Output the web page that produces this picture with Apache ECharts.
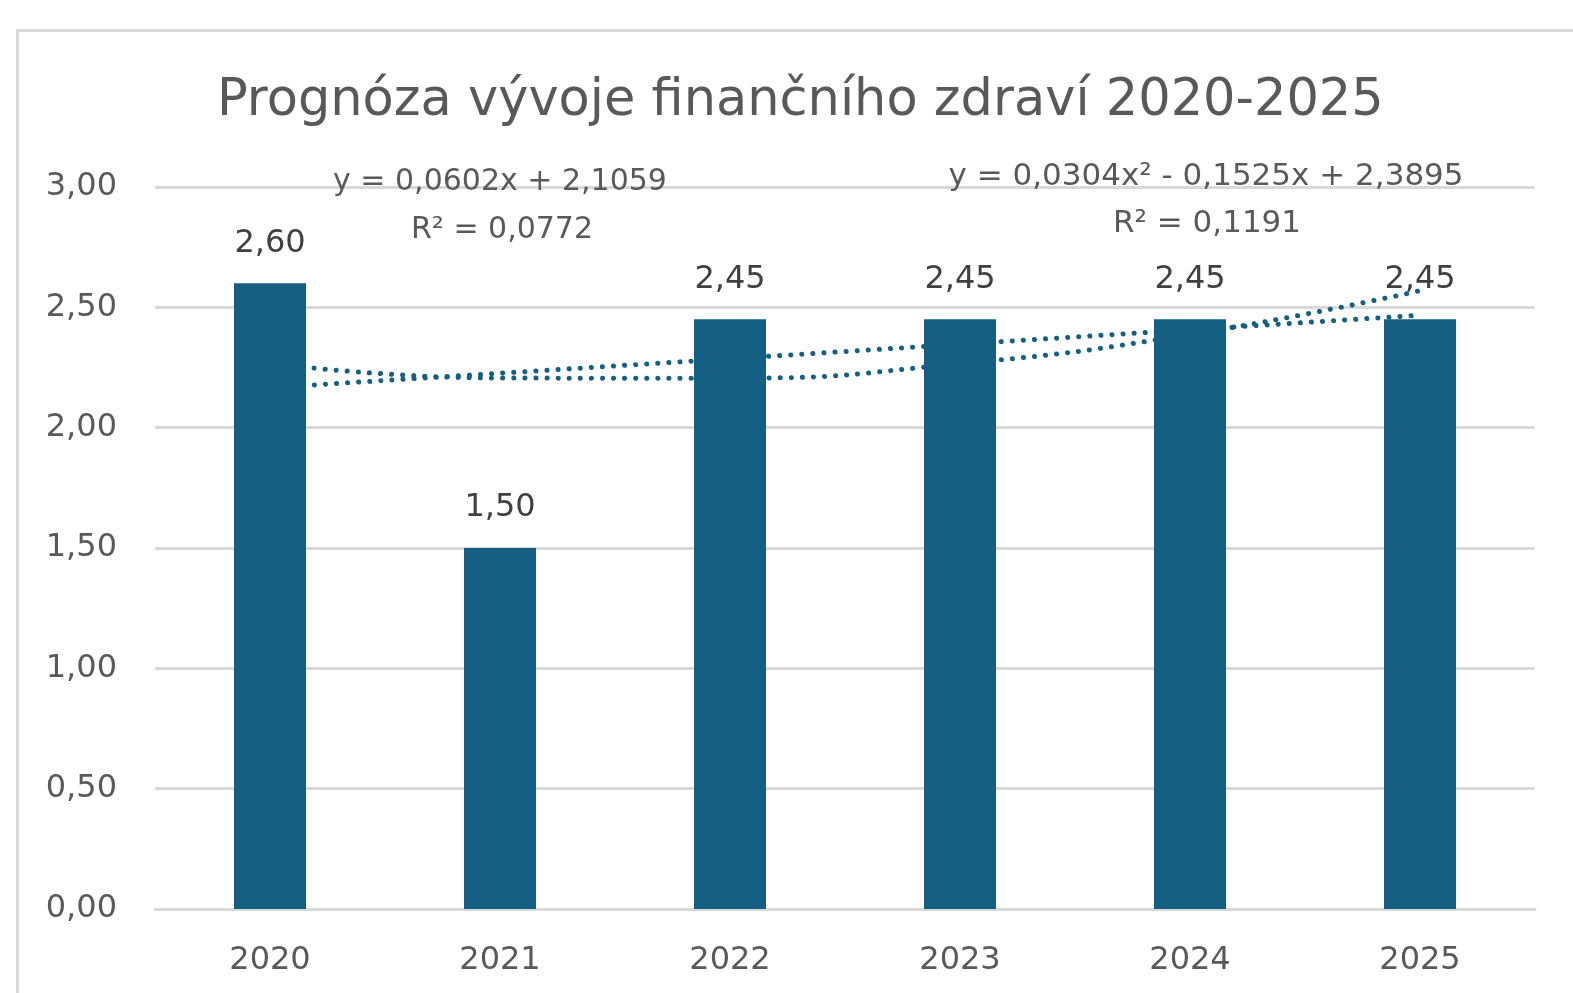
<!DOCTYPE html>
<html>
<head>
<meta charset="utf-8">
<script src="https://cdn.jsdelivr.net/npm/echarts@6/dist/echarts.min.js"></script>
<style>
  html, body { margin: 0; padding: 0; background: #fff; }
  #chart { width: 1573px; height: 993px; }
</style>
</head>
<body>
<div id="chart"></div>
<script>
const years = ['2020', '2021', '2022', '2023', '2024', '2025']
const scores = [2.60, 1.50, 2.45, 2.45, 2.45, 2.45]
// trendline coefficients as printed on the chart (x = 1..6)
const linearCoef = [0.0602, 2.1059]
const polyCoef = [0.0304, -0.1525, 2.3895]
const linearText = ['y = 0,0602x + 2,1059', 'R² = 0,0772']
const polyText = ['y = 0,0304x² - 0,1525x + 2,3895', 'R² = 0,1191']

const font = 'DejaVu Sans'
const grey = '#595959'
const barColor = '#156082'

const linearLine = years.map((y, i) => linearCoef[0] * (i + 1) + linearCoef[1])
const polyLine = years.map((y, i) => {
  const x = i + 1
  return polyCoef[0] * x * x + polyCoef[1] * x + polyCoef[2]
})

const fmt = v => v.toFixed(2).replace('.', ',')

const chart = echarts.init(document.getElementById('chart'))
const trendStyle = {
  color: barColor,
  width: 5,
  type: [0.1, 11],
  cap: 'round'
}
const eqText = (x, y, text, size) => ({
  type: 'text', x: x, y: y, z: 100,
  style: { text: text, font: size + 'px "DejaVu Sans"', fill: grey, align: 'center', verticalAlign: 'middle' }
})

chart.setOption({
  animation: false,
  title: {
    text: 'Prognóza vývoje finančního zdraví 2020-2025',
    left: 212,
    top: 71,
    textStyle: { fontFamily: font, fontSize: 51, fontWeight: 'normal', color: grey }
  },
  graphic: [
    {
      type: 'rect',
      left: 15, top: 28,
      shape: { width: 1600, height: 1000 },
      style: { fill: 'none', stroke: '#d9d9d9', lineWidth: 3 },
      z: -1
    },
    eqText(500, 182, linearText[0], 30),
    eqText(502, 230, linearText[1], 30),
    eqText(1206, 177, polyText[0], 31),
    eqText(1207, 224, polyText[1], 31)
  ],
  grid: { left: 155, right: 38, top: 187, bottom: 84 },
  xAxis: {
    type: 'category',
    data: years,
    axisTick: { show: false },
    axisLine: { lineStyle: { color: '#d9d9d9', width: 3 } },
    axisLabel: { fontFamily: font, fontSize: 32, color: grey, margin: 36 }
  },
  yAxis: {
    type: 'value',
    min: 0, max: 3, interval: 0.5,
    axisLine: { show: false },
    axisTick: { show: false },
    splitLine: { lineStyle: { color: '#d9d9d9', width: 3 } },
    axisLabel: { fontFamily: font, fontSize: 32, color: grey, margin: 38, formatter: fmt }
  },
  series: [
    {
      type: 'line',
      data: linearLine,
      symbol: 'none',
      lineStyle: trendStyle,
      z: 1
    },
    {
      type: 'line',
      data: polyLine,
      smooth: true,
      symbol: 'none',
      lineStyle: trendStyle,
      z: 1
    },
    {
      type: 'bar',
      data: scores,
      barWidth: 72,
      itemStyle: { color: barColor },
      z: 3,
      label: {
        show: true,
        position: 'top',
        distance: 24,
        fontFamily: font,
        fontSize: 32,
        color: '#404040',
        formatter: p => fmt(p.value)
      }
    }
  ]
})
</script>
</body>
</html>
